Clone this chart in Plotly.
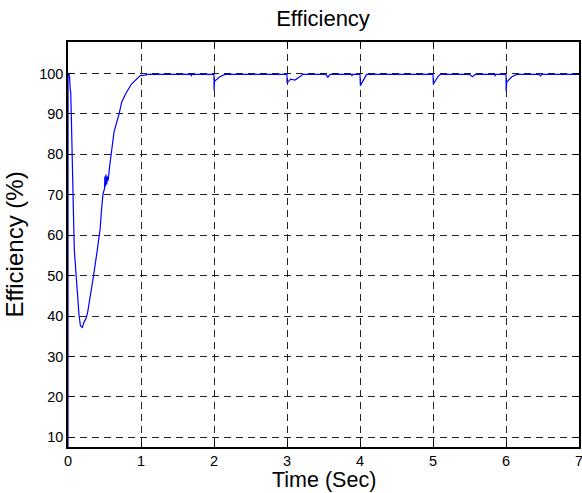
import plotly.graph_objects as go

time_s = [0, 0.0005, 0.015, 0.022, 0.03, 0.037, 0.045, 0.05, 0.06, 0.075, 0.087, 0.11, 0.13, 0.15,
          0.17, 0.196, 0.22, 0.25, 0.27, 0.30, 0.35, 0.40, 0.44, 0.46, 0.48, 0.50, 0.505, 0.51, 0.52,
          0.53, 0.54, 0.55, 0.57, 0.59, 0.63, 0.66, 0.70, 0.735, 0.79, 0.87, 0.94, 0.99, 1.05, 1.1,
          1.68, 1.69, 1.70, 2.0, 2.001, 2.006, 2.08, 2.15, 3.0, 3.001, 3.05, 3.11, 3.22, 3.53, 3.56,
          3.59, 3.88, 3.89, 3.90, 4.0, 4.005, 4.09, 5.0, 5.005, 5.07, 5.1, 5.5, 5.54, 5.58, 5.84,
          5.85, 5.86, 6.0, 6.002, 6.01, 6.08, 6.15, 6.45, 6.47, 6.49, 7.0]
efficiency = [0, 100, 99.8, 99, 96, 95.5, 90, 86.8, 77, 65, 56.2, 50, 43.8, 40.5,
              37.6, 37.2, 38.5, 39.5, 41, 44, 50, 56.2, 61.5, 66.5, 70.2, 71.5, 74.5, 72, 75,
              72.5, 74.5, 73.5, 77, 80, 85.5, 87.5, 90, 92.9, 95, 97.4, 98.7, 99.5, 99.6, 99.8,
              99.8, 99.5, 99.8, 99.8, 95.8, 98.1, 99.2, 99.8, 99.8, 97.7, 98.6, 98.4, 99.8, 99.8, 99.1,
              99.8, 99.8, 99.5, 99.8, 99.8, 97.0, 99.8, 99.8, 97.4, 99.3, 99.8, 99.8, 99.2, 99.8, 99.8,
              99.5, 99.8, 99.8, 95.6, 97.9, 99.2, 99.8, 99.8, 99.4, 99.8, 99.8]

x_ticks = [0, 1, 2, 3, 4, 5, 6, 7]
y_ticks = [10, 20, 30, 40, 50, 60, 70, 80, 90, 100]

fig = go.Figure()
fig.add_trace(go.Scatter(x=time_s, y=efficiency, mode="lines",
                         line=dict(color="#0000ff", width=1.2), showlegend=False))

font = "Liberation Sans, Arial, sans-serif"
axis_common = dict(showline=True, linecolor="black", linewidth=1.5, mirror="allticks",
                   ticks="inside", ticklen=5, tickcolor="black", tickwidth=1,
                   showgrid=True, gridcolor="#222222", griddash="7px,5px", gridwidth=1,
                   zeroline=False, tickfont=dict(family=font, size=14.5, color="black"),
                   ticklabeloverflow="allow", automargin=False)

fig.update_layout(
    width=582, height=493,
    paper_bgcolor="white", plot_bgcolor="white",
    margin=dict(l=68, r=3, t=42, b=46),
    title=dict(text="Efficiency", x=0.555, xanchor="center", y=0.962, yanchor="middle",
               font=dict(family=font, size=22, color="black")),
    xaxis=dict(range=[0, 7], tickvals=x_ticks, ticktext=[str(v) for v in x_ticks],
               **axis_common),
    yaxis=dict(range=[7.6, 107.8], tickvals=y_ticks, ticktext=[str(v) for v in y_ticks],
               title=dict(text="Efficiency (%)", standoff=9, font=dict(family=font, size=24, color="black")),
               **axis_common),
)
fig.add_annotation(text="Time (Sec)", xref="paper", yref="paper", x=0.5, y=-0.081,
                   xanchor="center", yanchor="middle", showarrow=False, borderpad=0,
                   font=dict(family=font, size=21.5, color="black"))

fig.write_html("out.html")
